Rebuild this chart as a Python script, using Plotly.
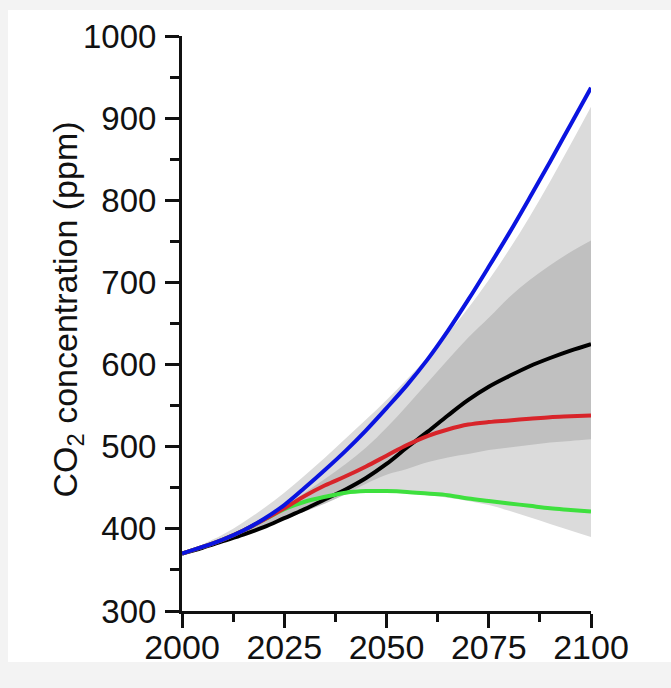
import plotly.graph_objects as go

years = list(range(2000, 2101, 5))

blue = [370, 378, 387, 398, 412, 429, 450, 472, 495, 520, 547, 575, 606, 641, 679, 719, 760, 803, 847, 892, 937]
black = [370, 377, 385, 393, 402, 413, 424, 436, 448, 462, 479, 499, 518, 538, 557, 573, 586, 598, 608, 617, 625]
red = [370, 378, 387, 398, 411, 425, 440, 453, 464, 476, 489, 502, 513, 521, 527, 530, 532, 534, 536, 537, 538]
green = [370, 378, 387, 398, 411, 424, 433, 439, 444, 446, 446, 445, 443, 441, 437, 434, 431, 428, 425, 423, 421]

light_upper = [370, 381, 393, 408, 425, 444, 465, 487, 510, 533, 557, 582, 609, 638, 669, 703, 740, 780, 823, 868, 914]
light_lower = [369, 376, 384, 392, 401, 412, 423, 435, 444, 445, 444, 443, 441, 438, 434, 429, 422, 414, 406, 398, 390]
dark_upper = [370, 379, 389, 400, 413, 428, 444, 461, 479, 499, 523, 550, 578, 606, 633, 657, 682, 703, 721, 737, 751]
dark_lower = [369, 377, 384, 392, 401, 411, 421, 431, 442, 455, 466, 473, 481, 487, 491, 496, 499, 502, 505, 507, 509]

y_ticks = [300, 400, 500, 600, 700, 800, 900, 1000]
x_ticks = [2000, 2025, 2050, 2075, 2100]

fig = go.Figure()

def band(lower, upper, color):
    fig.add_trace(go.Scatter(x=years, y=lower, mode="lines", line=dict(width=0, shape="spline"),
                             showlegend=False, hoverinfo="skip"))
    fig.add_trace(go.Scatter(x=years, y=upper, mode="lines", line=dict(width=0, shape="spline"),
                             fill="tonexty", fillcolor=color, showlegend=False, hoverinfo="skip"))

band(light_lower, light_upper, "rgb(219,219,219)")
band(dark_lower, dark_upper, "rgb(192,192,192)")

for vals, col in [(black, "#000000"), (green, "#3ee03e"), (red, "#d8242a"), (blue, "#0a14e0")]:
    fig.add_trace(go.Scatter(x=years, y=vals, mode="lines",
                             line=dict(color=col, width=4, shape="spline"),
                             showlegend=False))

L, R, T, B = 182, 80, 36, 77
W, H = 671, 688
pw, ph = W - L - R, H - T - B

def px_x(p):
    return (p - L) / pw

def px_y(p):
    return (H - B - p) / ph

fig.add_shape(type="rect", xref="paper", yref="paper",
              x0=px_x(8), x1=px_x(671), y0=px_y(662), y1=px_y(10),
              fillcolor="white", line=dict(width=0), layer="below")

FONT = "Liberation Sans, Arial, sans-serif"

fig.add_annotation(text="CO<sub>2</sub> concentration (ppm)", textangle=-90,
                   xref="paper", yref="paper", x=px_x(43), y=px_y(310),
                   showarrow=False, font=dict(family=FONT, size=34, color="#111"))

axis_common = dict(showgrid=False, zeroline=False, showline=True, linecolor="#111", linewidth=3,
                   ticks="outside", tickwidth=3, tickcolor="#111", ticklen=14, automargin=False,
                   tickfont=dict(family=FONT, color="#111"))

fig.update_xaxes(range=[2000, 2100], tickvals=x_ticks, ticktext=[str(v) for v in x_ticks],
                 minor=dict(tickvals=[2012.5, 2037.5, 2062.5, 2087.5], ticklen=8, tickwidth=3,
                            tickcolor="#111", ticks="outside"),
                 **axis_common)
fig.update_xaxes(tickfont_size=34, ticklabelstandoff=-10)
fig.update_yaxes(range=[300, 1000], tickvals=y_ticks, ticktext=[str(v) for v in y_ticks],
                 minor=dict(tickvals=[350, 450, 550, 650, 750, 850, 950], ticklen=9, tickwidth=3,
                            tickcolor="#111", ticks="outside"),
                 **axis_common)
fig.update_yaxes(tickfont_size=33, ticklabelstandoff=2)

fig.update_layout(width=W, height=H, margin=dict(l=L, r=R, t=T, b=B),
                  paper_bgcolor="#f3f3f3", plot_bgcolor="white", showlegend=False)

fig.write_html("out.html")
